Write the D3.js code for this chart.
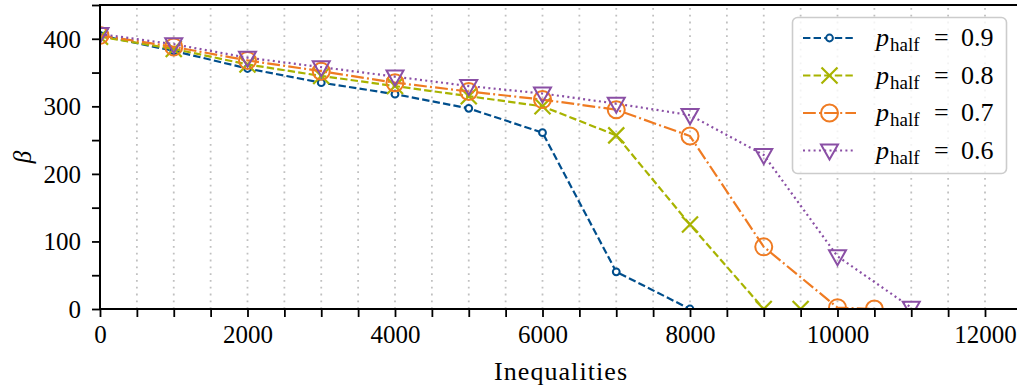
<!DOCTYPE html>
<html>
<head>
<meta charset="utf-8">
<script src="https://cdn.jsdelivr.net/npm/d3@7"></script>
<style>
  body { margin: 0; background: #fff; }
  svg { display: block; font-family: "Liberation Serif", "DejaVu Serif", serif; }
</style>
</head>
<body>
<div id="chart"></div>
<script>
const inequalities = [0, 1000, 2000, 3000, 4000, 5000, 6000, 7000, 8000, 9000, 9500, 10000, 10500, 11000]

const beta09 = [[0, 405], [1000, 382], [2000, 356], [3000, 335], [4000, 318], [5000, 297], [6000, 261], [7000, 55], [8000, 0]]
const beta08 = [[0, 403], [1000, 385], [2000, 362], [3000, 345], [4000, 330], [5000, 315], [6000, 300], [7000, 257], [8000, 125], [9000, 0], [9500, 0]]
const beta07 = [[0, 405], [1000, 388], [2000, 368], [3000, 352], [4000, 335], [5000, 322], [6000, 310], [7000, 295], [8000, 256], [9000, 92], [10000, 2], [10500, 0]]
const beta06 = [[0, 407], [1000, 392], [2000, 372], [3000, 358], [4000, 344], [5000, 330], [6000, 319], [7000, 304], [8000, 287], [9000, 228], [10000, 78], [11000, 2]]

const seriesLabels = ["0.9", "0.8", "0.7", "0.6"]
const xTicks = [0, 2000, 4000, 6000, 8000, 10000, 12000]
const yTicks = [0, 100, 200, 300, 400]

const width = 1017, height = 388
const margin = {left: 100, top: 5, bottom: 79}

const x = d3.scaleLinear().domain([0, 12500]).range([margin.left, margin.left + 12500 * 0.07375])
const y = d3.scaleLinear().domain([0, 450]).range([height - margin.bottom, margin.top])

const series = [
  {data: beta09, label: seriesLabels[0], color: "#004e8c", dash: "7.4,3.2", marker: "smallcircle"},
  {data: beta08, label: seriesLabels[1], color: "#a8b300", dash: "7.4,3.2", marker: "x"},
  {data: beta07, label: seriesLabels[2], color: "#ef7b22", dash: "12.8,3.2,2,3.2", marker: "circle"},
  {data: beta06, label: seriesLabels[3], color: "#8a4fa5", dash: "2,3.3", marker: "tri"},
]

const svg = d3.select("#chart").append("svg")
  .attr("width", width)
  .attr("height", height)

svg.append("defs").append("clipPath")
  .attr("id", "plot-clip")
  .append("rect")
    .attr("x", x(0))
    .attr("y", y(450))
    .attr("width", x(12500) - x(0))
    .attr("height", y(0) - y(450))

// vertical dotted grid at every 500
const gridTicks = d3.range(500, 12500, 500)
svg.append("g").selectAll("line")
  .data(gridTicks)
  .join("line")
    .attr("x1", d => x(d))
    .attr("x2", d => x(d))
    .attr("y1", y(0))
    .attr("y2", y(450))
    .attr("stroke", "#c0c0c0")
    .attr("stroke-width", 1.8)
    .attr("stroke-dasharray", "1.8,5")

function drawMarker(g, type, color) {
  if (type == "smallcircle") {
    g.append("circle").attr("r", 3.4).attr("fill", "#fff").attr("stroke", color).attr("stroke-width", 2)
  } else if (type == "circle") {
    g.append("circle").attr("r", 8.5).attr("fill", "none").attr("stroke", color).attr("stroke-width", 2)
  } else if (type == "x") {
    g.append("path").attr("d", "M-8,-8L8,8M-8,8L8,-8").attr("fill", "none").attr("stroke", color).attr("stroke-width", 2.2)
  } else if (type == "tri") {
    g.append("path").attr("d", "M-8.5,-6L8.5,-6L0,9Z").attr("fill", "none").attr("stroke", color).attr("stroke-width", 2).attr("stroke-linejoin", "miter")
  }
}

const plot = svg.append("g").attr("clip-path", "url(#plot-clip)")
const line = d3.line().x(d => x(d[0])).y(d => y(d[1]))

for (const s of series) {
  const g = plot.append("g")
  g.append("path")
    .attr("d", line(s.data))
    .attr("fill", "none")
    .attr("stroke", s.color)
    .attr("stroke-width", 2.2)
    .attr("stroke-dasharray", s.dash)
  g.selectAll("g.m")
    .data(s.data)
    .join("g")
      .attr("class", "m")
      .attr("transform", d => `translate(${x(d[0])},${y(d[1])})`)
      .each(function() { drawMarker(d3.select(this), s.marker, s.color) })
}

// axes
const xAxis = svg.append("g")
  .attr("transform", `translate(0,${y(0)})`)
  .call(d3.axisBottom(x).tickValues(d3.range(0, 12500, 500)).tickSize(8).tickFormat(d => xTicks.includes(d) ? d : ""))
const yAxis = svg.append("g")
  .attr("transform", `translate(${x(0)},0)`)
  .call(d3.axisLeft(y).tickValues(d3.range(0, 451, 50)).tickSize(8).tickFormat(d => yTicks.includes(d) ? d : ""))

for (const ax of [xAxis, yAxis]) {
  ax.select(".domain").remove()
  ax.selectAll(".tick line").attr("stroke", "#000").attr("stroke-width", 1.8)
  ax.selectAll("text").attr("font-size", 25).attr("fill", "#000").attr("font-family", "Liberation Serif, serif")
}
xAxis.selectAll("text").attr("dy", "0.95em").attr("y", 10)
yAxis.selectAll("text").attr("x", -19).attr("dy", "0.34em")

// spines
svg.append("g").selectAll("line")
  .data([
    [x(0), y(0), x(12500), y(0)],
    [x(0), y(450), x(12500), y(450)],
    [x(0), y(0), x(0), y(450)],
  ])
  .join("line")
    .attr("x1", d => d[0]).attr("y1", d => d[1])
    .attr("x2", d => d[2]).attr("y2", d => d[3])
    .attr("stroke", "#000")
    .attr("stroke-width", 2)
    .attr("stroke-linecap", "square")

svg.append("text")
  .attr("x", 494)
  .attr("y", 380)
  .attr("font-size", 26)
  .attr("textLength", 133)
  .attr("lengthAdjust", "spacing")
  .text("Inequalities")

svg.append("text")
  .attr("transform", `translate(31,${(y(0) + y(450)) / 2}) rotate(-90)`)
  .attr("text-anchor", "middle")
  .attr("font-size", 25)
  .attr("font-style", "italic")
  .text("β")

// legend
const legend = svg.append("g")
legend.append("rect")
  .attr("x", 792.5)
  .attr("y", 17.5)
  .attr("width", 214)
  .attr("height", 156)
  .attr("rx", 5)
  .attr("fill", "rgba(255,255,255,0.8)")
  .attr("stroke", "#cccccc")
  .attr("stroke-width", 1.6)

series.forEach((s, i) => {
  const cy = 38 + i * 37.5
  const row = legend.append("g").attr("transform", `translate(0,${cy})`)
  row.append("line")
    .attr("x1", 803).attr("x2", 856).attr("y1", 0).attr("y2", 0)
    .attr("stroke", s.color).attr("stroke-width", 2.2)
    .attr("stroke-dasharray", s.dash)
  drawMarker(row.append("g").attr("transform", "translate(829.5,0)"), s.marker, s.color)
  const t = row.append("text")
    .attr("y", 8)
    .attr("font-size", 26)
  t.append("tspan").attr("x", 876).attr("font-style", "italic").text("p")
  t.append("tspan").attr("x", 890).attr("font-size", 19).attr("dy", 5).text("half")
  t.append("tspan").attr("x", 934).attr("dy", -5).text("=")
  t.append("tspan").attr("x", 961).text(s.label)
})
</script>
</body>
</html>
